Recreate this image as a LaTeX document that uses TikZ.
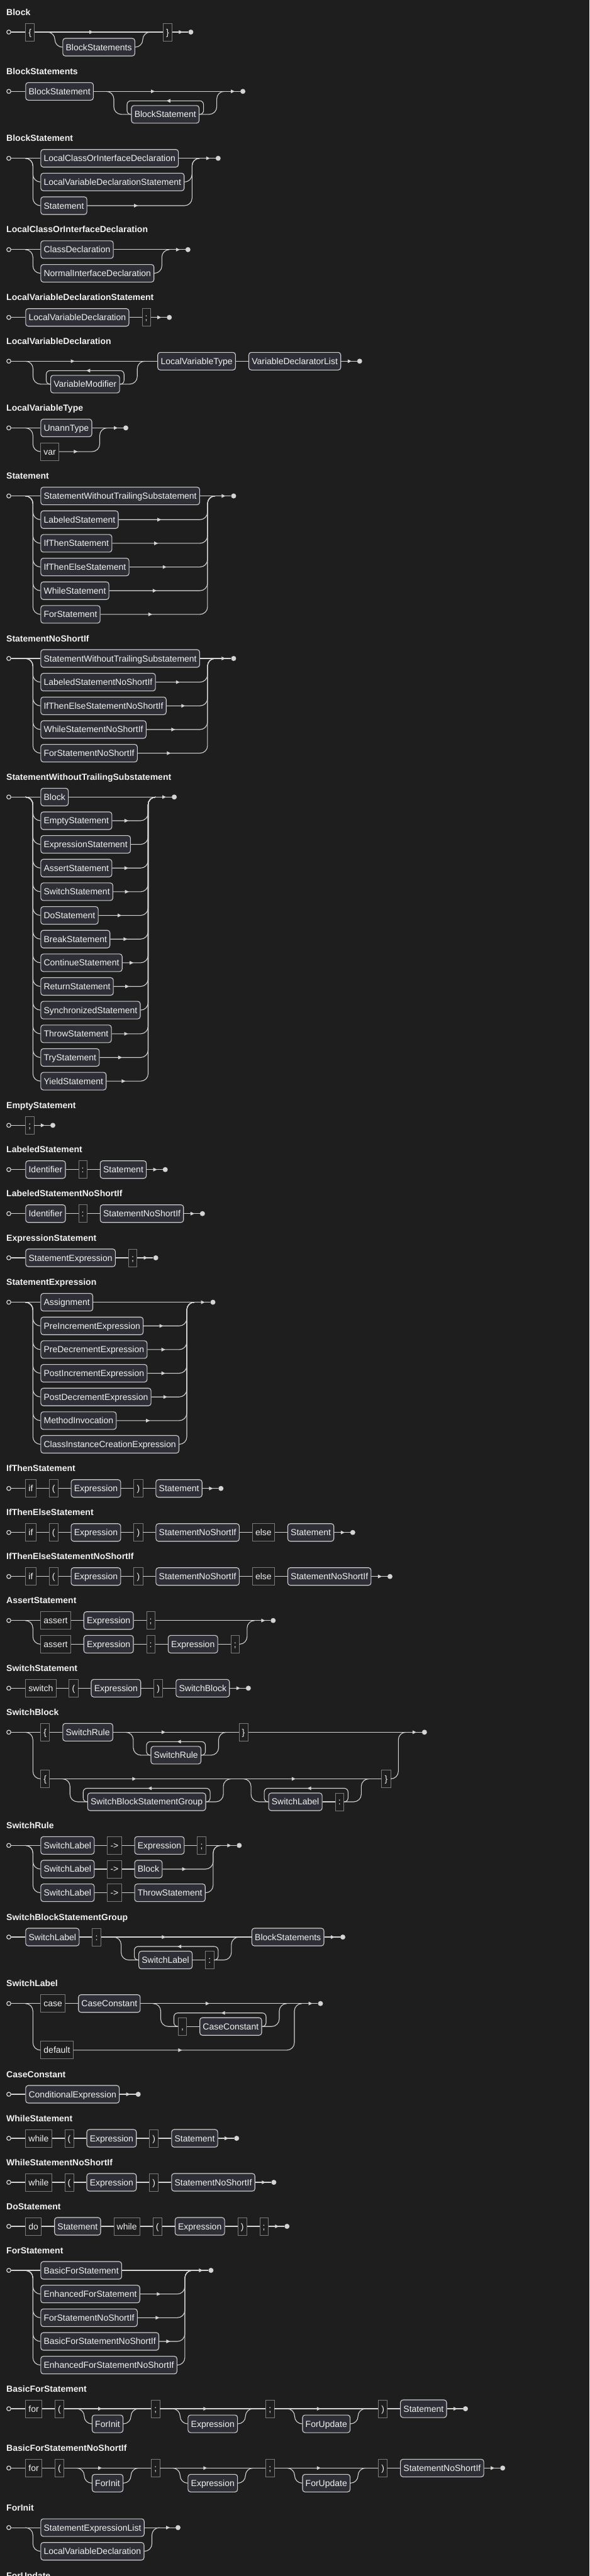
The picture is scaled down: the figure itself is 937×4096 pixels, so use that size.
\documentclass[tikz,border=0pt]{standalone}
\usepackage{fontspec}
\setmainfont{Liberation Sans}
\usetikzlibrary{calc}
\definecolor{bgc}{HTML}{1E1E1E}
\definecolor{railc}{HTML}{D4D4D4}
\definecolor{ntfill}{HTML}{2E2F36}
\definecolor{ntdraw}{HTML}{CFCFCF}
\definecolor{tmdraw}{HTML}{7C7C7C}
\definecolor{txtc}{HTML}{F2F2F2}
\newcommand\nodefont{\fontsize{14}{16}\selectfont}
\newcommand\ttlfont{\fontsize{14}{16}\selectfont\bfseries}
\tikzset{
 nt/.style={draw=ntdraw, fill=ntfill, rounded corners=4pt, line width=1.1pt, minimum height=28pt, inner xsep=4.75pt, inner ysep=0pt, text height=10pt, text depth=0pt, text=txtc, font=\nodefont, anchor=west},
 tm/.style={draw=tmdraw, line width=0.8pt, minimum height=28pt, inner xsep=4.75pt, inner ysep=0pt, text height=10pt, text depth=0pt, text=txtc, font=\nodefont, anchor=west},
 ttl/.style={font=\ttlfont, text=txtc, anchor=base west, inner sep=0pt},
 rail/.style={draw=railc, line width=1.1pt},
 rc/.style={rounded corners=12pt},
 startc/.style={circle, draw=railc, line width=1.2pt, minimum size=6.5pt, inner sep=0pt},
 stopc/.style={circle, fill=railc, minimum size=8pt, inner sep=0pt},
}
\newcommand\rarrat[1]{\path #1 coordinate (arrpt); \fill[railc] ($(arrpt)+(-3,-3)$) -- ($(arrpt)+(3,0)$) -- ($(arrpt)+(-3,3)$) -- cycle;}
\newcommand\larrat[1]{\path #1 coordinate (arrpt); \fill[railc] ($(arrpt)+(3,-3)$) -- ($(arrpt)+(-3,0)$) -- ($(arrpt)+(3,3)$) -- cycle;}
\newcommand\RowArr[2]{\rarrat{($(#1)!0.5!(#2 |- #1)$)}}
\newcommand\Finish[2]{\node[stopc] (#2) at ($(#1)+(29.5,0)$) {}; \draw[rail] (#1) -- (#2); \rarrat{($(#1)+(13.5,0)$)}}
\newcommand\NT[3]{\node[nt] (#1) at ($(#2)+(20,0)$) {#3}; \draw[rail] (#2) -- (#1.west);}
\newcommand\TM[3]{\node[tm] (#1) at ($(#2)+(20,0)$) {#3}; \draw[rail] (#2) -- (#1.west);}
\newcommand\First[5]{\node[startc] (#2) at (14,#4) {}; \node[#1] (#3) at (40.3,#4) {#5}; \draw[rail] (#2) -- (#3.west);}
\newcommand\Title[3]{\node[ttl] (#1) at (10,{#2-27}) {#3};}
\newcommand\Opt[3]{%
 \coordinate (#1s) at ($(#2)+(20,0)$);
 \node[nt] (#1b) at ($(#1s)+(24,24)$) {#3};
 \coordinate (#1j) at ($(#1b.east |- #1s)+(24,0)$);
 \draw[rail] (#2) -- (#1j);
 \rarrat{($(#1s)!0.5!(#1b.east |- #1s)$)}
 \draw[rail, rc] (#1s) -- ++(12,0) |- (#1b.west);
 \draw[rail, rc] (#1b.east) -- ++(12,0) |- (#1j);}
\newcommand\ZomBegin[2]{\coordinate (#1s) at ($(#2)+(20,0)$); \coordinate (#1f) at ($(#1s)+(39.5,36.5)$);}
\newcommand\ZomEnd[4]{%
 \coordinate (#1j) at ($(#4.east |- #1s)+(39.5,0)$);
 \draw[rail] (#2) -- (#1j);
 \rarrat{($(#1s)!0.5!(#4.east |- #1s)$)}
 \draw[rail, rc] (#1s) -- ++(12,0) |- (#3.west);
 \draw[rail, rc] (#4.east) -- ++(27.5,0) |- (#1j);
 \draw[rail, rounded corners=6pt] (#4.east) -- ++(6.5,0) -- ++(0,-21.5) -| ($(#3.west)+(-6.5,0)$) -- (#3.west);
 \larrat{($(#3.west)!0.5!(#4.east)+(5,-21.5)$)}}
\newcommand\Alt[4]{\draw[rail,rc] (#1) -- ++(12,0) |- (#3.west); \draw[rail,rc] (#4.east) -| (#2) -- ++(12,0);}
\newcommand\AltOne[3]{\Alt{#1}{#2}{#3}{#3}}
\newcommand\Choice[5]{%
 \node[startc] (#1s) at (14,#2) {};
 \coordinate (#1c) at (40.3,#2);
 \foreach \t [count=\i from 0] in {#3} {\node[nt] (#1n\i) at (64.3,{#2+37.65*\i}) {\t};}
 \coordinate (#1j) at ($(#1n#4.east |- #1c)+(12,0)$);
 \coordinate (#1k) at ($(#1j)+(12,0)$);
 \draw[rail] (#1s) -- (#1n0.west);
 \draw[rail] (#1n0.east) -- (#1k);
 \foreach \i in {1,...,#5} {\AltOne{#1c}{#1j}{#1n\i}}
 \Finish{#1k}{#1e}}
\begin{document}
\begin{tikzpicture}[x=1pt,y=-1pt]
\useasboundingbox (0,0) rectangle (937,4096);
\fill[bgc] (0,0) rectangle (937,4096);
% 1 Block
\Title{t1}{51}{Block}
\First{tm}{r1s}{r1a}{51}{\{}
\Opt{r1o}{r1a.east}{BlockStatements}
\TM{r1c}{r1oj}{\}}
\Finish{r1c.east}{r1e}
% 2 BlockStatements
\Title{t2}{145.3}{BlockStatements}
\First{nt}{r2s}{r2a}{145.3}{BlockStatement}
\ZomBegin{r2z}{r2a.east}
\node[nt] (r2b) at (r2zf) {BlockStatement};
\ZomEnd{r2z}{r2a.east}{r2b}{r2b}
\Finish{r2zj}{r2e}
% 3 BlockStatement
\Title{t3}{251.7}{BlockStatement}
\Choice{r3}{251.7}{LocalClassOrInterfaceDeclaration, LocalVariableDeclarationStatement, Statement}{1}{2}
\RowArr{r3n2.east}{r3n1.east}
% 4
\Title{t4}{396.9}{LocalClassOrInterfaceDeclaration}
\Choice{r4}{396.9}{ClassDeclaration, NormalInterfaceDeclaration}{1}{1}
% 5
\Title{t5}{504.7}{LocalVariableDeclarationStatement}
\First{nt}{r5s}{r5a}{504.7}{LocalVariableDeclaration}
\TM{r5b}{r5a.east}{;}
\Finish{r5b.east}{r5e}
% 6
\Title{t6}{574.3}{LocalVariableDeclaration}
\node[startc] (r6s) at (14,574.3) {};
\coordinate (r6p) at (20.5,574.3);
\draw[rail] (r6s) -- (r6p);
\ZomBegin{r6z}{r6p}
\node[nt] (r6a) at (r6zf) {VariableModifier};
\ZomEnd{r6z}{r6p}{r6a}{r6a}
\NT{r6b}{r6zj}{LocalVariableType}
\NT{r6c}{r6b.east}{VariableDeclaratorList}
\Finish{r6c.east}{r6e}
% 7
\Title{t7}{680.4}{LocalVariableType}
\node[startc] (r7s) at (14,680.4) {};
\coordinate (r7c) at (40.3,680.4);
\node[nt] (r7a) at (64.3,680.4) {UnannType};
\node[tm] (r7b) at (64.3,718.05) {var};
\coordinate (r7j) at ($(r7a.east)+(12,0)$);
\coordinate (r7k) at ($(r7j)+(12,0)$);
\draw[rail] (r7s) -- (r7a.west);
\draw[rail] (r7a.east) -- (r7k);
\AltOne{r7c}{r7j}{r7b}
\RowArr{r7b.east}{r7a.east}
\Finish{r7k}{r7e}
% 8
\Title{t8}{788.6}{Statement}
\Choice{r8}{788.6}{StatementWithoutTrailingSubstatement, LabeledStatement, IfThenStatement, IfThenElseStatement, WhileStatement, ForStatement}{0}{5}
\foreach \i in {1,...,5} {\RowArr{r8n\i.east}{r8n0.east}}
% 9
\Title{t9}{1047}{StatementNoShortIf}
\Choice{r9}{1047}{StatementWithoutTrailingSubstatement, LabeledStatementNoShortIf, IfThenElseStatementNoShortIf, WhileStatementNoShortIf, ForStatementNoShortIf}{0}{4}
\foreach \i in {1,...,4} {\RowArr{r9n\i.east}{r9n0.east}}
% 10
\Title{t10}{1267.3}{StatementWithoutTrailingSubstatement}
\Choice{r10}{1267.3}{Block, EmptyStatement, ExpressionStatement, AssertStatement, SwitchStatement, DoStatement, BreakStatement, ContinueStatement, ReturnStatement, SynchronizedStatement, ThrowStatement, TryStatement, YieldStatement}{9}{12}
\foreach \i in {1,3,4,5,6,7,8,10,11,12} {\RowArr{r10n\i.east}{r10n9.east}}
% 11
\Title{t11}{1789.3}{EmptyStatement}
\First{tm}{r11s}{r11a}{1789.3}{;}
\Finish{r11a.east}{r11e}
% 12
\Title{t12}{1859.7}{LabeledStatement}
\First{nt}{r12s}{r12a}{1859.7}{Identifier}
\TM{r12b}{r12a.east}{:}
\NT{r12c}{r12b.east}{Statement}
\Finish{r12c.east}{r12e}
% 13
\Title{t13}{1929.7}{LabeledStatementNoShortIf}
\First{nt}{r13s}{r13a}{1929.7}{Identifier}
\TM{r13b}{r13a.east}{:}
\NT{r13c}{r13b.east}{StatementNoShortIf}
\Finish{r13c.east}{r13e}
% 14
\Title{t14}{2000}{ExpressionStatement}
\First{nt}{r14s}{r14a}{2000}{StatementExpression}
\TM{r14b}{r14a.east}{;}
\Finish{r14b.east}{r14e}
% 15
\Title{t15}{2070.6}{StatementExpression}
\Choice{r15}{2070.6}{Assignment, PreIncrementExpression, PreDecrementExpression, PostIncrementExpression, PostDecrementExpression, MethodInvocation, ClassInstanceCreationExpression}{6}{6}
\foreach \i in {1,...,5} {\RowArr{r15n\i.east}{r15n6.east}}
% 16
\Title{t16}{2366.7}{IfThenStatement}
\First{tm}{r16s}{r16a}{2366.7}{if}
\TM{r16b}{r16a.east}{(}
\NT{r16c}{r16b.east}{Expression}
\TM{r16d}{r16c.east}{)}
\NT{r16f}{r16d.east}{Statement}
\Finish{r16f.east}{r16e}
% 17
\Title{t17}{2436.7}{IfThenElseStatement}
\First{tm}{r17s}{r17a}{2436.7}{if}
\TM{r17b}{r17a.east}{(}
\NT{r17c}{r17b.east}{Expression}
\TM{r17d}{r17c.east}{)}
\NT{r17f}{r17d.east}{StatementNoShortIf}
\TM{r17g}{r17f.east}{else}
\NT{r17h}{r17g.east}{Statement}
\Finish{r17h.east}{r17e}
% 18
\Title{t18}{2506.7}{IfThenElseStatementNoShortIf}
\First{tm}{r18s}{r18a}{2506.7}{if}
\TM{r18b}{r18a.east}{(}
\NT{r18c}{r18b.east}{Expression}
\TM{r18d}{r18c.east}{)}
\NT{r18f}{r18d.east}{StatementNoShortIf}
\TM{r18g}{r18f.east}{else}
\NT{r18h}{r18g.east}{StatementNoShortIf}
\Finish{r18h.east}{r18e}
% 19
\Title{t19}{2576.7}{AssertStatement}
\node[startc] (r19s) at (14,2576.7) {};
\coordinate (r19c) at (40.3,2576.7);
\node[tm] (r19a) at (64.3,2576.7) {assert};
\draw[rail] (r19s) -- (r19a.west);
\NT{r19b}{r19a.east}{Expression}
\TM{r19d}{r19b.east}{;}
\node[tm] (r19f) at (64.3,2614.35) {assert};
\NT{r19g}{r19f.east}{Expression}
\TM{r19h}{r19g.east}{:}
\NT{r19i}{r19h.east}{Expression}
\TM{r19l}{r19i.east}{;}
\coordinate (r19j) at ($(r19l.east |- r19c)+(12,0)$);
\coordinate (r19k) at ($(r19j)+(12,0)$);
\draw[rail] (r19d.east) -- (r19k);
\Alt{r19c}{r19j}{r19f}{r19l}
\Finish{r19k}{r19e}
% 20
\Title{t20}{2684.3}{SwitchStatement}
\First{tm}{r20s}{r20a}{2684.3}{switch}
\TM{r20b}{r20a.east}{(}
\NT{r20c}{r20b.east}{Expression}
\TM{r20d}{r20c.east}{)}
\NT{r20f}{r20d.east}{SwitchBlock}
\Finish{r20f.east}{r20e}
% 21 SwitchBlock
\Title{t21}{2754.3}{SwitchBlock}
\node[startc] (r21s) at (14,2754.3) {};
\coordinate (r21c) at (40.3,2754.3);
\node[tm] (r21a) at (64.3,2754.3) {\{};
\draw[rail] (r21s) -- (r21a.west);
\NT{r21b}{r21a.east}{SwitchRule}
\ZomBegin{r21z}{r21b.east}
\node[nt] (r21d) at (r21zf) {SwitchRule};
\ZomEnd{r21z}{r21b.east}{r21d}{r21d}
\TM{r21f}{r21zj}{\}}
\node[tm] (r21g) at (64.3,2828.45) {\{};
\ZomBegin{r21y}{r21g.east}
\node[nt] (r21h) at (r21yf) {SwitchBlockStatementGroup};
\ZomEnd{r21y}{r21g.east}{r21h}{r21h}
\ZomBegin{r21x}{r21yj}
\node[nt] (r21i) at (r21xf) {SwitchLabel};
\TM{r21l}{r21i.east}{:}
\ZomEnd{r21x}{r21yj}{r21i}{r21l}
\TM{r21m}{r21xj}{\}}
\coordinate (r21j) at ($(r21m.east |- r21c)+(12,0)$);
\coordinate (r21k) at ($(r21j)+(12,0)$);
\draw[rail] (r21f.east) -- (r21k);
\Alt{r21c}{r21j}{r21g}{r21m}
\Finish{r21k}{r21e}
% 22 SwitchRule
\Title{t22}{2934.3}{SwitchRule}
\node[startc] (r22s) at (14,2934.3) {};
\coordinate (r22c) at (40.3,2934.3);
\node[nt] (r22a) at (64.3,2934.3) {SwitchLabel};
\draw[rail] (r22s) -- (r22a.west);
\TM{r22b}{r22a.east}{->}
\NT{r22d}{r22b.east}{Expression}
\TM{r22f}{r22d.east}{;}
\node[nt] (r22g) at (64.3,2971.95) {SwitchLabel};
\TM{r22h}{r22g.east}{->}
\NT{r22i}{r22h.east}{Block}
\node[nt] (r22l) at (64.3,3009.6) {SwitchLabel};
\TM{r22m}{r22l.east}{->}
\NT{r22n}{r22m.east}{ThrowStatement}
\coordinate (r22j) at ($(r22n.east |- r22c)+(12,0)$);
\coordinate (r22k) at ($(r22j)+(12,0)$);
\draw[rail] (r22f.east) -- (r22k);
\Alt{r22c}{r22j}{r22g}{r22i}
\Alt{r22c}{r22j}{r22l}{r22n}
\RowArr{r22i.east}{r22n.east}
\Finish{r22k}{r22e}
% 23 SwitchBlockStatementGroup
\Title{t23}{3080}{SwitchBlockStatementGroup}
\First{nt}{r23s}{r23a}{3080}{SwitchLabel}
\TM{r23b}{r23a.east}{:}
\ZomBegin{r23z}{r23b.east}
\node[nt] (r23c) at (r23zf) {SwitchLabel};
\TM{r23d}{r23c.east}{:}
\ZomEnd{r23z}{r23b.east}{r23c}{r23d}
\NT{r23f}{r23zj}{BlockStatements}
\Finish{r23f.east}{r23e}
% 24 SwitchLabel
\Title{t24}{3185.7}{SwitchLabel}
\node[startc] (r24s) at (14,3185.7) {};
\coordinate (r24c) at (40.3,3185.7);
\node[tm] (r24a) at (64.3,3185.7) {case};
\draw[rail] (r24s) -- (r24a.west);
\NT{r24b}{r24a.east}{CaseConstant}
\ZomBegin{r24z}{r24b.east}
\node[tm] (r24d) at (r24zf) {,};
\NT{r24f}{r24d.east}{CaseConstant}
\ZomEnd{r24z}{r24b.east}{r24d}{r24f}
\node[tm] (r24g) at (64.3,3259.85) {default};
\coordinate (r24j) at ($(r24zj)+(12,0)$);
\coordinate (r24k) at ($(r24j)+(12,0)$);
\draw[rail] (r24zj) -- (r24k);
\AltOne{r24c}{r24j}{r24g}
\RowArr{r24g.east}{r24zj}
\Finish{r24k}{r24e}
% 25
\Title{t25}{3330}{CaseConstant}
\First{nt}{r25s}{r25a}{3330}{ConditionalExpression}
\Finish{r25a.east}{r25e}
% 26
\Title{t26}{3400}{WhileStatement}
\First{tm}{r26s}{r26a}{3400}{while}
\TM{r26b}{r26a.east}{(}
\NT{r26c}{r26b.east}{Expression}
\TM{r26d}{r26c.east}{)}
\NT{r26f}{r26d.east}{Statement}
\Finish{r26f.east}{r26e}
% 27
\Title{t27}{3470}{WhileStatementNoShortIf}
\First{tm}{r27s}{r27a}{3470}{while}
\TM{r27b}{r27a.east}{(}
\NT{r27c}{r27b.east}{Expression}
\TM{r27d}{r27c.east}{)}
\NT{r27f}{r27d.east}{StatementNoShortIf}
\Finish{r27f.east}{r27e}
% 28
\Title{t28}{3540}{DoStatement}
\First{tm}{r28s}{r28a}{3540}{do}
\NT{r28b}{r28a.east}{Statement}
\TM{r28c}{r28b.east}{while}
\TM{r28d}{r28c.east}{(}
\NT{r28f}{r28d.east}{Expression}
\TM{r28g}{r28f.east}{)}
\TM{r28h}{r28g.east}{;}
\Finish{r28h.east}{r28e}
% 29
\Title{t29}{3610}{ForStatement}
\Choice{r29}{3610}{BasicForStatement, EnhancedForStatement, ForStatementNoShortIf, BasicForStatementNoShortIf, EnhancedForStatementNoShortIf}{4}{4}
\foreach \i in {1,2,3} {\RowArr{r29n\i.east}{r29n4.east}}
% 30
\Title{t30}{3830}{BasicForStatement}
\First{tm}{r30s}{r30a}{3830}{for}
\TM{r30b}{r30a.east}{(}
\Opt{r30o}{r30b.east}{ForInit}
\TM{r30c}{r30oj}{;}
\Opt{r30p}{r30c.east}{Expression}
\TM{r30d}{r30pj}{;}
\Opt{r30q}{r30d.east}{ForUpdate}
\TM{r30f}{r30qj}{)}
\NT{r30g}{r30f.east}{Statement}
\Finish{r30g.east}{r30e}
% 31
\Title{t31}{3924.3}{BasicForStatementNoShortIf}
\First{tm}{r31s}{r31a}{3924.3}{for}
\TM{r31b}{r31a.east}{(}
\Opt{r31o}{r31b.east}{ForInit}
\TM{r31c}{r31oj}{;}
\Opt{r31p}{r31c.east}{Expression}
\TM{r31d}{r31pj}{;}
\Opt{r31q}{r31d.east}{ForUpdate}
\TM{r31f}{r31qj}{)}
\NT{r31g}{r31f.east}{StatementNoShortIf}
\Finish{r31g.east}{r31e}
% 32
\Title{t32}{4019}{ForInit}
\Choice{r32}{4019}{StatementExpressionList, LocalVariableDeclaration}{1}{1}
% 33
\Title{t33}{4127}{ForUpdate}
\end{tikzpicture}
\end{document}
